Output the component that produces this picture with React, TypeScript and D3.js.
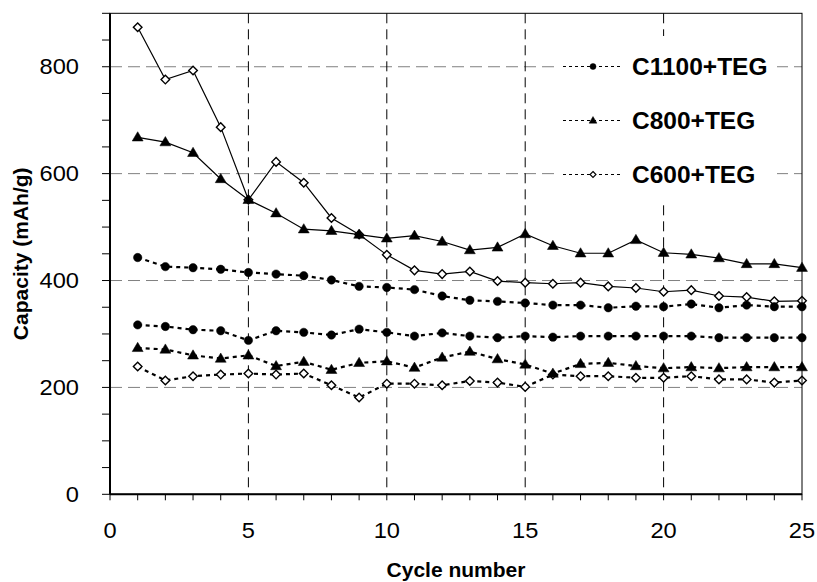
import React from 'react';
import * as d3 from 'd3';

const cycles = [1, 2, 3, 4, 5, 6, 7, 8, 9, 10, 11, 12, 13, 14, 15, 16, 17, 18, 19, 20, 21, 22, 23, 24, 25];

const c1100Upper = [443, 426, 424, 421, 415, 412, 409, 401, 389, 387, 383, 371, 363, 361, 358, 354, 354, 349, 352, 351, 356, 349, 354, 351, 351];
const c1100Lower = [317, 314, 308, 306, 288, 306, 303, 298, 309, 303, 296, 302, 296, 293, 296, 294, 296, 296, 296, 296, 296, 293, 293, 293, 293];
const c800Charge = [668, 659, 639, 590, 551, 526, 496, 493, 486, 479, 484, 473, 457, 462, 487, 465, 451, 451, 476, 452, 449, 442, 431, 431, 424];
const c800Discharge = [274, 271, 260, 254, 260, 240, 248, 233, 246, 249, 237, 256, 267, 253, 243, 226, 244, 246, 240, 236, 238, 236, 238, 238, 238];
const c600Charge = [874, 776, 793, 687, 551, 622, 583, 517, 486, 448, 419, 412, 417, 399, 396, 394, 396, 389, 386, 379, 382, 371, 369, 361, 362];
const c600Discharge = [239, 213, 221, 224, 226, 224, 226, 204, 181, 207, 207, 204, 212, 209, 201, 224, 221, 221, 218, 218, 221, 215, 215, 209, 213];

const xTicks = [0, 5, 10, 15, 20, 25];
const yTicks = [0, 200, 400, 600, 800];
const legendLabels = ['C1100+TEG', 'C800+TEG', 'C600+TEG'];

type Marker = 'circle' | 'triangle' | 'diamond';

const markerPath = (m: Marker, s: number) => {
  if (m === 'circle') return d3.symbol(d3.symbolCircle, Math.PI * s * s)() as string;
  if (m === 'triangle') {
    const h = s * 2.2;
    const w = s * 2.6;
    return `M0,${-h * 0.6}L${w / 2},${h * 0.4}L${-w / 2},${h * 0.4}Z`;
  }
  return `M0,${-s}L${s},0L0,${s}L${-s},0Z`;
};

const W = 817;
const H = 582;
const left = 110;
const right = 802;
const top = 13.3;
const bottom = 494.3;

export default function App() {
  const x = d3.scaleLinear().domain([0, 25]).range([left, right]);
  const y = d3.scaleLinear().domain([0, 900]).range([bottom, top]);
  const font = 'Arial, "Liberation Sans", Helvetica, sans-serif';

  const series: { values: number[]; marker: Marker; solid: boolean }[] = [
    { values: c600Charge, marker: 'diamond', solid: true },
    { values: c800Charge, marker: 'triangle', solid: true },
    { values: c600Discharge, marker: 'diamond', solid: false },
    { values: c800Discharge, marker: 'triangle', solid: false },
    { values: c1100Lower, marker: 'circle', solid: false },
    { values: c1100Upper, marker: 'circle', solid: false },
  ];

  const line = d3
    .line<number>()
    .x((_, i) => x(cycles[i]))
    .y((d) => y(d));

  const minorY = d3.range(0, 901, 50);
  const minorX = d3.range(0, 26, 1);
  const legendMarkers: Marker[] = ['circle', 'triangle', 'diamond'];

  return (
    <svg width={W} height={H} style={{ position: 'absolute', left: 0, top: 0, background: '#fff' }}>
      <rect x={0} y={0} width={W} height={H} fill="#fff" />
      {yTicks.filter((t) => t > 0).map((t) => (
        <line key={'hg' + t} x1={left} x2={right} y1={y(t)} y2={y(t)} stroke="#808080" strokeWidth={1} strokeDasharray="12 6" />
      ))}
      {xTicks.filter((t) => t > 0 && t < 25).map((t) => (
        <line key={'vg' + t} x1={x(t)} x2={x(t)} y1={top} y2={bottom} stroke="#000" strokeWidth={1} strokeDasharray="10 6" />
      ))}
      <rect x={555} y={36} width={222} height={164} fill="#fff" />
      {series.map((s, si) => (
        <g key={'s' + si}>
          <path
            d={line(s.values) as string}
            fill="none"
            stroke="#000"
            strokeWidth={s.solid ? 1.2 : 2.2}
            strokeDasharray={s.solid ? undefined : '4 4'}
          />
          {s.values.map((v, i) => (
            <path
              key={i}
              d={markerPath(s.marker, s.marker === 'diamond' ? 4.3 : 4.2)}
              transform={`translate(${x(cycles[i])},${y(v)})`}
              fill={s.marker === 'diamond' ? '#fff' : '#000'}
              stroke="#000"
              strokeWidth={s.marker === 'diamond' ? 1.4 : 0.5}
            />
          ))}
        </g>
      ))}
      <rect x={left} y={top} width={right - left} height={bottom - top} fill="none" stroke="#000" strokeWidth={1} />
      <line x1={left} x2={left} y1={top} y2={bottom} stroke="#000" strokeWidth={2} />
      <line x1={left} x2={right} y1={bottom} y2={bottom} stroke="#000" strokeWidth={2} />
      {minorY.map((t) => (
        <line key={'yt' + t} x1={left - 8} x2={left} y1={y(t)} y2={y(t)} stroke="#000" strokeWidth={1} />
      ))}
      {yTicks.map((t) => (
        <text
          key={'yl' + t}
          transform={`translate(79,${y(t)}) scale(1.1,1)`}
          dy="0.36em"
          textAnchor="end"
          fontFamily={font}
          fontSize={21.5}
          fill="#000"
        >
          {t}
        </text>
      ))}
      {minorX.map((t) => (
        <line key={'xt' + t} x1={x(t)} x2={x(t)} y1={bottom} y2={bottom + 6} stroke="#000" strokeWidth={1} />
      ))}
      {xTicks.map((t) => (
        <text
          key={'xl' + t}
          transform={`translate(${x(t)},538) scale(1.1,1)`}
          textAnchor="middle"
          fontFamily={font}
          fontSize={21.5}
          fill="#000"
        >
          {t}
        </text>
      ))}
      <text x={456} y={577} textAnchor="middle" fontFamily={font} fontSize={21} fontWeight="bold" fill="#000">
        Cycle number
      </text>
      <text
        transform={`translate(28,${(top + bottom) / 2}) rotate(-90)`}
        textAnchor="middle"
        fontFamily={font}
        fontSize={21}
        fontWeight="bold"
        fill="#000"
      >
        Capacity (mAh/g)
      </text>
      {legendLabels.map((lab, i) => {
        const ly = 66.5 + i * 54;
        return (
          <g key={'lg' + i}>
            <line x1={563} x2={622} y1={ly} y2={ly} stroke="#000" strokeWidth={1.2} strokeDasharray="3 3" />
            <path
              d={markerPath(legendMarkers[i], 3)}
              transform={`translate(593,${ly})`}
              fill={legendMarkers[i] === 'diamond' ? '#fff' : '#000'}
              stroke="#000"
              strokeWidth={legendMarkers[i] === 'diamond' ? 1.1 : 0.5}
            />
            <text x={632} y={ly} dy="0.36em" fontFamily={font} fontSize={24.5} fontWeight="bold" fill="#000">
              {lab}
            </text>
          </g>
        );
      })}
    </svg>
  );
}
